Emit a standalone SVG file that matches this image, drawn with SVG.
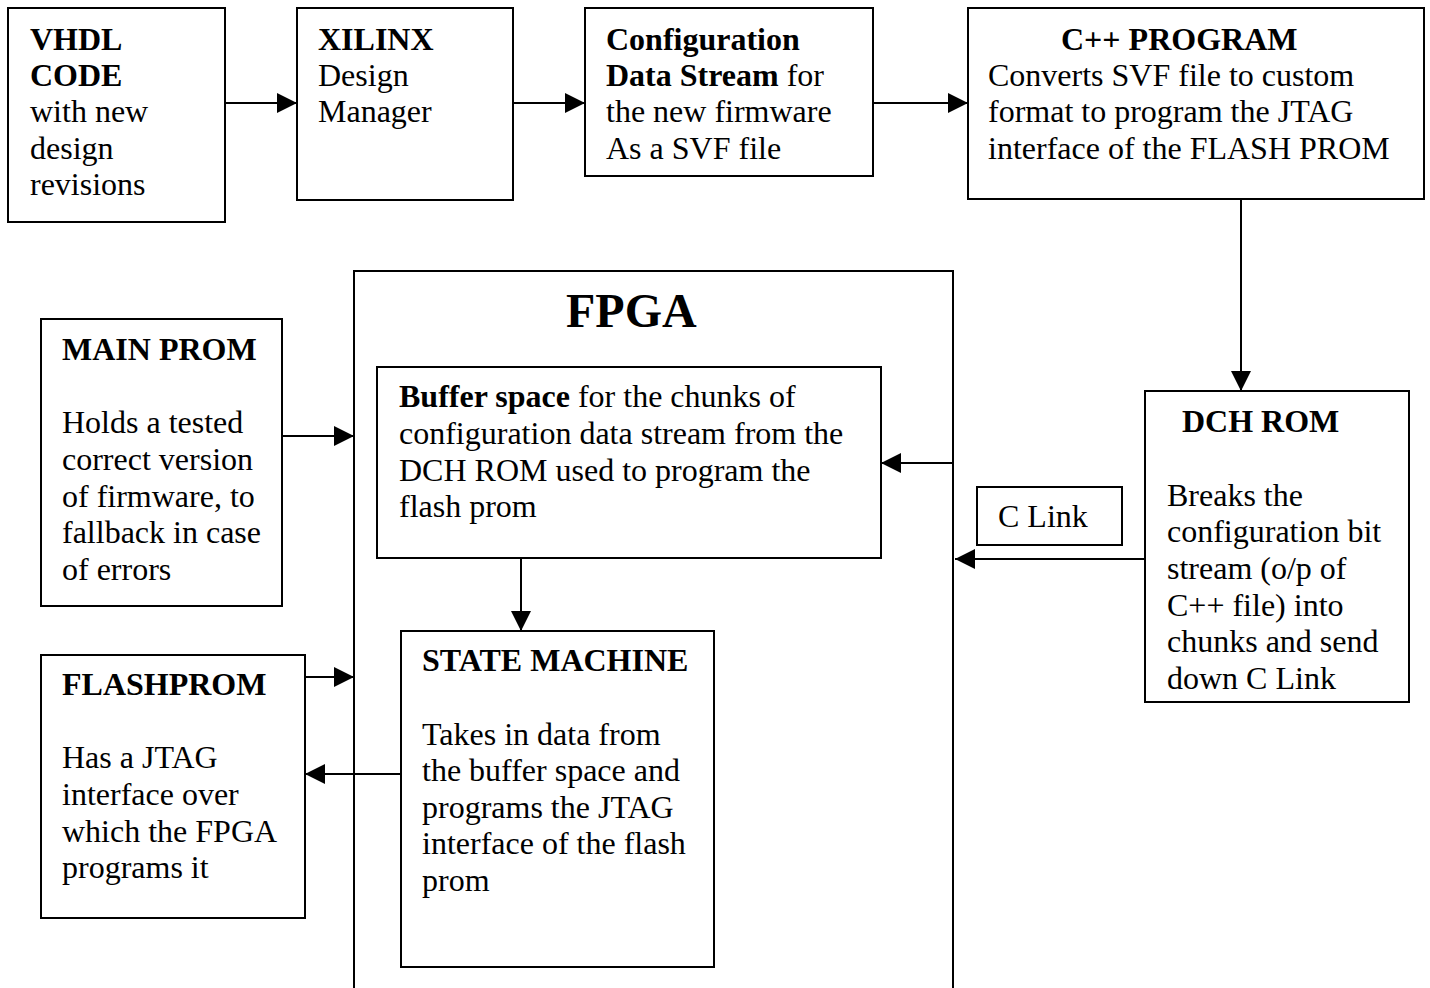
<svg xmlns="http://www.w3.org/2000/svg" width="1430" height="988" viewBox="0 0 1430 988">
<style>
.box{fill:#fff;stroke:#000;stroke-width:2}
.t{font-family:"Liberation Serif","Times New Roman",serif;font-size:32px;fill:#000}
.b{font-weight:bold}
.c{stroke:#000;stroke-width:2;fill:none;marker-end:url(#ah)}
</style>
<defs>
<marker id="ah" markerUnits="userSpaceOnUse" markerWidth="20" markerHeight="20" refX="20" refY="10" orient="auto">
<path d="M0,0 L20,10 L0,20 z" fill="#000"/>
</marker>
</defs>
<rect width="1430" height="988" fill="#fff"/>
<g id="fpga">
<path d="M354,988 V271 H953 V988" class="box"/>
<text x="566" y="327" class="t b" style="font-size:48px">FPGA</text>
</g>
<g id="vhdl">
<rect x="8" y="8" width="217" height="214" class="box"/>
<text class="t"><tspan x="30" y="50" class="b">VHDL</tspan><tspan x="30" y="86" class="b">CODE</tspan><tspan x="30" y="122">with new</tspan><tspan x="30" y="159">design</tspan><tspan x="30" y="195">revisions</tspan></text>
</g>
<g id="xilinx">
<rect x="297" y="8" width="216" height="192" class="box"/>
<text class="t"><tspan x="318" y="50" class="b">XILINX</tspan><tspan x="318" y="86">Design</tspan><tspan x="318" y="122">Manager</tspan></text>
</g>
<g id="config">
<rect x="585" y="8" width="288" height="168" class="box"/>
<text class="t"><tspan x="606" y="50" class="b">Configuration</tspan><tspan x="606" y="86"><tspan class="b">Data Stream</tspan> for</tspan><tspan x="606" y="122">the new firmware</tspan><tspan x="606" y="159">As a SVF file</tspan></text>
</g>
<g id="cpp">
<rect x="968" y="8" width="456" height="191" class="box"/>
<text class="t"><tspan x="1061" y="50" class="b">C++ PROGRAM</tspan><tspan x="988" y="86">Converts SVF file to custom</tspan><tspan x="988" y="122">format to program the JTAG</tspan><tspan x="988" y="159">interface of the FLASH PROM</tspan></text>
</g>
<g id="mainprom">
<rect x="41" y="319" width="241" height="287" class="box"/>
<text class="t"><tspan x="62" y="360" class="b">MAIN PROM</tspan><tspan x="62" y="433">Holds a tested</tspan><tspan x="62" y="470">correct version</tspan><tspan x="62" y="507">of firmware, to</tspan><tspan x="62" y="543">fallback in case</tspan><tspan x="62" y="580">of errors</tspan></text>
</g>
<g id="flashprom">
<rect x="41" y="655" width="264" height="263" class="box"/>
<text class="t"><tspan x="62" y="695" class="b">FLASHPROM</tspan><tspan x="62" y="768">Has a JTAG</tspan><tspan x="62" y="805">interface over</tspan><tspan x="62" y="842">which the FPGA</tspan><tspan x="62" y="878">programs it</tspan></text>
</g>
<g id="buffer">
<rect x="377" y="367" width="504" height="191" class="box"/>
<text class="t"><tspan x="399" y="407"><tspan class="b">Buffer space</tspan> for the chunks of</tspan><tspan x="399" y="444">configuration data stream from the</tspan><tspan x="399" y="481">DCH ROM used to program the</tspan><tspan x="399" y="517">flash prom</tspan></text>
</g>
<g id="statemachine">
<rect x="401" y="631" width="313" height="336" class="box"/>
<text class="t"><tspan x="422" y="671" class="b">STATE MACHINE</tspan><tspan x="422" y="745">Takes in data from</tspan><tspan x="422" y="781">the buffer space and</tspan><tspan x="422" y="818">programs the JTAG</tspan><tspan x="422" y="854">interface of the flash</tspan><tspan x="422" y="891">prom</tspan></text>
</g>
<g id="dchrom">
<rect x="1145" y="391" width="264" height="311" class="box"/>
<text class="t"><tspan x="1182" y="432" class="b">DCH ROM</tspan><tspan x="1167" y="506">Breaks the</tspan><tspan x="1167" y="542">configuration bit</tspan><tspan x="1167" y="579">stream (o/p of</tspan><tspan x="1167" y="616">C++ file) into</tspan><tspan x="1167" y="652">chunks and send</tspan><tspan x="1167" y="689">down C Link</tspan></text>
</g>
<g id="clink">
<rect x="977" y="487" width="145" height="58" class="box"/>
<text x="998" y="527" class="t">C Link</text>
</g>
<g id="connectors">
<line x1="225" y1="103" x2="297" y2="103" class="c"/>
<line x1="513" y1="103" x2="585" y2="103" class="c"/>
<line x1="873" y1="103" x2="968" y2="103" class="c"/>
<line x1="1241" y1="199" x2="1241" y2="391" class="c"/>
<line x1="1145" y1="559" x2="955" y2="559" class="c"/>
<line x1="953" y1="463" x2="881" y2="463" class="c"/>
<line x1="521" y1="558" x2="521" y2="631" class="c"/>
<line x1="282" y1="436" x2="354" y2="436" class="c"/>
<line x1="305" y1="677" x2="354" y2="677" class="c"/>
<line x1="401" y1="774" x2="305" y2="774" class="c"/>
</g>
</svg>
